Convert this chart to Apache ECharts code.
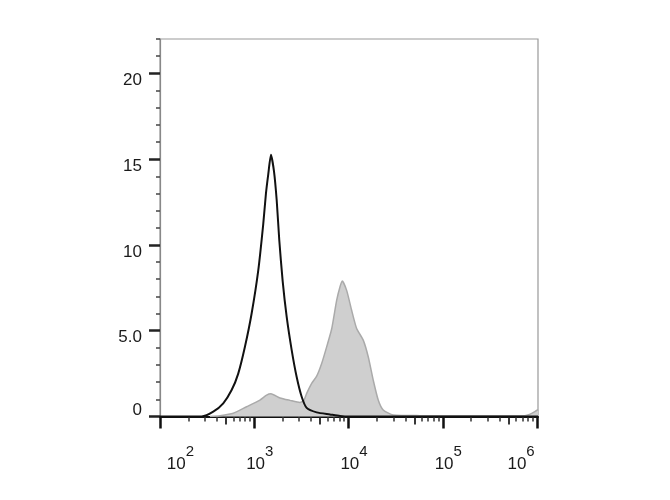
<!DOCTYPE html>
<html>
<head>
<meta charset="utf-8">
<script src="https://cdn.jsdelivr.net/npm/echarts@6/dist/echarts.min.js"></script>
<style>html,body{margin:0;padding:0;background:#fff;}#c{width:670px;height:500px;}</style>
</head>
<body>
<div id="c"></div>
<script>
// x values are log10 of fluorescence intensity
var blackX = [2.00, 2.442, 2.565, 2.671, 2.760, 2.830, 2.901, 2.972, 3.042, 3.095, 3.124, 3.148, 3.177, 3.209, 3.238, 3.265, 3.301, 3.344, 3.397, 3.450, 3.503, 3.556, 3.662, 3.803, 3.909, 4.015, 6.01];
var blackY = [0, 0, 0.28, 0.77, 1.54, 2.5, 4.06, 6.0, 8.5, 11.2, 13.0, 14.1, 15.25, 14.3, 12.6, 10.3, 7.9, 5.8, 3.87, 2.3, 1.15, 0.5, 0.24, 0.12, 0.03, 0, 0];
var grayX = [2.530, 2.636, 2.777, 2.919, 3.060, 3.131, 3.177, 3.273, 3.379, 3.485, 3.527, 3.556, 3.609, 3.662, 3.715, 3.768, 3.821, 3.874, 3.909, 3.933, 3.980, 4.033, 4.086, 4.156, 4.209, 4.262, 4.315, 4.368, 4.474, 4.757, 5.393, 5.870, 5.920, 5.980, 6.010];
var grayY = [0, 0.05, 0.19, 0.57, 0.96, 1.25, 1.33, 1.08, 0.94, 0.82, 0.95, 1.35, 1.93, 2.35, 3.09, 4.06, 5.1, 6.77, 7.55, 7.9, 7.35, 6.19, 5.13, 4.45, 3.48, 2.12, 0.96, 0.38, 0.09, 0.05, 0.04, 0.05, 0.12, 0.3, 0.4];

var xDecades = [2, 3, 4, 5, 6];
var xTickBase = '10';
var xTickExp = ['2', '3', '4', '5', '6'];
var yMajor = [0, 5, 10, 15, 20];
var yTickLabels = ['0', '5.0', '10', '15', '20'];
var yMinor = [1,2,3,4,6,7,8,9,11,12,13,14,16,17,18,19,21,22];

var xMid = [], xMinor = [];
for (var d = 2; d < 6; d++) {
  xMid.push(d + Math.log10(5));
  [2,3,4,6,7,8,9].forEach(function (k) { xMinor.push(d + Math.log10(k)); });
}

function pairs(xs, ys) { return xs.map(function (x, i) { return [x, ys[i]]; }); }

var FONT = 'Liberation Sans, Arial, sans-serif';
var TXT = '#1a1a1a';
var XMIN = 2, XMAX = 6.01, YMIN = 0, YMAX = 22;

function hiddenAxisBase(extra) {
  return Object.assign({
    type: 'value', axisLine: { show: false }, splitLine: { show: false },
    axisLabel: { show: false }
  }, extra);
}

var chart = echarts.init(document.getElementById('c'), null, { renderer: 'canvas' });
chart.setOption({
  animation: false,
  backgroundColor: '#fff',
  grid: { left: 160, right: 132, top: 39, bottom: 83.5, show: true, borderColor: '#999', borderWidth: 1.2, backgroundColor: '#fff' },
  xAxis: [
    {
      type: 'value', min: XMIN, max: XMAX, position: 'bottom',
      splitLine: { show: false },
      axisLine: { show: true, lineStyle: { color: '#111', width: 2 } },
      axisTick: { show: true, customValues: xDecades, length: 12, lineStyle: { color: '#111', width: 2.5 } },
      axisLabel: {
        show: true, customValues: xDecades, margin: 28,
        formatter: function (v) {
          var i = xDecades.indexOf(Math.round(v));
          var e = xTickExp[i];
          if (i === 0) return '{bl|' + xTickBase + '}{s|' + e + '}';
          if (i === xDecades.length - 1) return '{b|' + xTickBase + '}{sr|' + e + '}';
          return '{bm|' + xTickBase + '}{s|' + e + '}';
        },
        rich: {
          b: { fontSize: 17, color: TXT, fontFamily: FONT },
          bm: { fontSize: 17, color: TXT, fontFamily: FONT, padding: [0, 0, 0, 11] },
          bl: { fontSize: 17, color: TXT, fontFamily: FONT, padding: [0, 0, 0, 41] },
          s: { fontSize: 15, color: TXT, fontFamily: FONT, padding: [0, 0, 24, 0] },
          sr: { fontSize: 15, color: TXT, fontFamily: FONT, padding: [0, 32, 24, 0] }
        }
      }
    },
    hiddenAxisBase({ min: XMIN, max: XMAX, position: 'bottom',
      axisTick: { show: true, customValues: xMid, length: 8, lineStyle: { color: '#222', width: 1.8 } } }),
    hiddenAxisBase({ min: XMIN, max: XMAX, position: 'bottom',
      axisTick: { show: true, customValues: xMinor, length: 5, lineStyle: { color: '#333', width: 1.5 } } })
  ],
  yAxis: [
    {
      type: 'value', min: YMIN, max: YMAX, position: 'left',
      splitLine: { show: false },
      axisLine: { show: true, lineStyle: { color: '#888', width: 1.2 } },
      axisTick: { show: true, customValues: yMajor, length: 11, lineStyle: { color: '#222', width: 2.5 } },
      axisLabel: {
        show: true, customValues: yMajor, margin: 18,
        formatter: function (v) {
          var i = yMajor.indexOf(Math.round(v));
          return (v === 0 ? '{z|' : '{n|') + yTickLabels[i] + '}';
        },
        rich: {
          n: { fontSize: 17, color: TXT, fontFamily: FONT, padding: [14, 0, 0, 0] },
          z: { fontSize: 17, color: TXT, fontFamily: FONT, padding: [0, 0, 12, 0] }
        }
      }
    },
    hiddenAxisBase({ min: YMIN, max: YMAX, position: 'left',
      axisTick: { show: true, customValues: yMinor, length: 4, lineStyle: { color: '#444', width: 1.5 } } })
  ],
  series: [
    {
      type: 'line', xAxisIndex: 0, yAxisIndex: 0, data: pairs(grayX, grayY),
      showSymbol: false, smooth: 0.2,
      lineStyle: { color: '#aaa', width: 1.5 },
      areaStyle: { color: '#cfcfcf', opacity: 1 },
      z: 2
    },
    {
      type: 'line', xAxisIndex: 0, yAxisIndex: 0, data: pairs(blackX, blackY),
      showSymbol: false, smooth: 0.2,
      lineStyle: { color: '#111', width: 2 },
      z: 3
    }
  ]
});
</script>
</body>
</html>
